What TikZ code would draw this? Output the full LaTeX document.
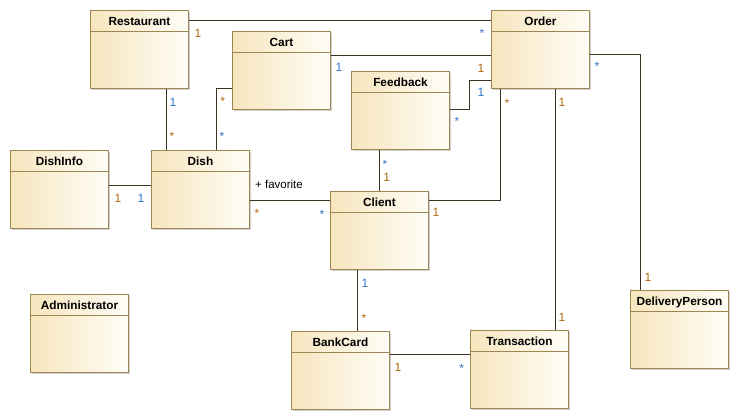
\documentclass[tikz,border=0pt]{standalone}
\usepackage{fontspec}
\setmainfont{Liberation Sans}
\usetikzlibrary{shadows}
\definecolor{boxborder}{HTML}{9C8752}
\definecolor{fillL}{HTML}{F7E6BE}
\definecolor{fillR}{HTML}{FFFDF7}
\definecolor{linec}{HTML}{3E3220}
\definecolor{mulO}{HTML}{B0690A}
\definecolor{mulB}{HTML}{2F74C4}
\tikzset{
  cls/.style={anchor=north west, draw=boxborder, line width=0.95pt,
    left color=fillL, right color=fillR,
    minimum width=98pt, inner xsep=0pt, inner ysep=3pt,
    text height=12pt, text depth=60pt,
    font=\fontsize{11.8}{13}\selectfont\bfseries, text=black,
    drop shadow={shadow xshift=1.6pt, shadow yshift=-1.6pt, fill=black!35, opacity=.5},
    path picture={\draw[boxborder, line width=0.95pt]
      ([yshift=-21pt]path picture bounding box.north west) --
      ([yshift=-21pt]path picture bounding box.north east);}},
  assoc/.style={draw=linec, line width=0.85pt},
  mO/.style={anchor=base, inner sep=0pt, text=mulO, font=\fontsize{12}{14}\selectfont},
  mB/.style={anchor=base, inner sep=0pt, text=mulB, font=\fontsize{12}{14}\selectfont},
  rolelbl/.style={anchor=base west, inner sep=0pt, text=black, font=\fontsize{11.5}{13}\selectfont}
}
\begin{document}
\begin{tikzpicture}[x=1pt,y=-1pt]
\useasboundingbox[fill=white] (0,0) rectangle (740,420);

% classes
\node[cls] (rest) at (90,10) {Restaurant};
\node[cls] (cart) at (232,31) {Cart};
\node[cls] (ord) at (491,10) {Order};
\node[cls] (fb) at (351,71) {Feedback};
\node[cls] (dinfo) at (10,150) {DishInfo};
\node[cls] (dish) at (151,150) {Dish};
\node[cls] (cli) at (330,191) {Client};
\node[cls] (bc) at (291,331) {BankCard};
\node[cls] (tr) at (470,330) {Transaction};
\node[cls] (dp) at (630,290) {DeliveryPerson};
\node[cls] (adm) at (30,294) {Administrator};

% connectors
\draw[assoc] ([yshift=-10pt]rest.north east) -- ([yshift=-10pt]ord.north west);

\coordinate (c1) at ([yshift=-24pt]cart.north east);
\draw[assoc] (c1) -- (c1 -| ord.west);

\coordinate (f1) at ([yshift=-38pt]fb.north east);
\coordinate (o1) at ([yshift=-70pt]ord.north west);
\draw[assoc] (f1) -- ++(19,0) |- (o1);

\draw[assoc] ([yshift=-44pt]ord.north east) -| ([xshift=10pt]dp.north west);

\draw[assoc] ([yshift=-9.5pt]cli.north east) -| ([xshift=9.5pt]ord.south west);

\coordinate (o2) at ([xshift=64pt]ord.south west);
\draw[assoc] (o2) -- (o2 |- tr.north);

\coordinate (r2) at ([xshift=76pt]rest.south west);
\draw[assoc] (r2) -- (r2 |- dish.north);

\draw[assoc] ([yshift=-57pt]cart.north west) -| ([xshift=65pt]dish.north west);

\coordinate (di1) at ([yshift=-35pt]dinfo.north east);
\draw[assoc] (di1) -- (di1 -| dish.west);

\coordinate (d2) at ([yshift=-50.5pt]dish.north east);
\draw[assoc] (d2) -- (d2 -| cli.west);

\coordinate (f2) at ([xshift=28pt]fb.south west);
\draw[assoc] (f2) -- (f2 |- cli.north);

\coordinate (cl2) at ([xshift=27pt]cli.south west);
\draw[assoc] (cl2) -- (cl2 |- bc.north);

\coordinate (b1) at ([yshift=-23pt]bc.north east);
\draw[assoc] (b1) -- (b1 -| tr.west);

% multiplicities
\node[mO] (m1) at (198,37.3) {1};
\node[mB] (m2) at (482,38) {*};
\node[mB] (m3) at (339,72) {1};
\node[mO] (m4) at (481,72.3) {1};
\node[mB] (m5) at (481,96.3) {1};
\node[mB] (m6) at (457,126) {*};
\node[mB] (m7) at (597,71) {*};
\node[mO] (m8) at (648,281.3) {1};
\node[mO] (m9) at (507,107) {*};
\node[mO] (m10) at (436,216.3) {1};
\node[mO] (m11) at (562,106.3) {1};
\node[mO] (m12) at (562,321) {1};
\node[mB] (m13) at (173,106.3) {1};
\node[mO] (m14) at (172,141) {*};
\node[mO] (m15) at (222.7,105.7) {*};
\node[mB] (m16) at (222,141) {*};
\node[mO] (m17) at (118,202.3) {1};
\node[mB] (m18) at (141,202.3) {1};
\node[mO] (m19) at (257,217.7) {*};
\node[mB] (m20) at (322,218) {*};
\node[mB] (m21) at (385,168) {*};
\node[mO] (m22) at (386.7,182) {1};
\node[mB] (m23) at (365,287) {1};
\node[mO] (m24) at (364,322.7) {*};
\node[mO] (m25) at (398,371.3) {1};
\node[mB] (m26) at (461.7,372) {*};

\node[rolelbl] (fav) at (255,188.5) {+ favorite};
\end{tikzpicture}
\end{document}
